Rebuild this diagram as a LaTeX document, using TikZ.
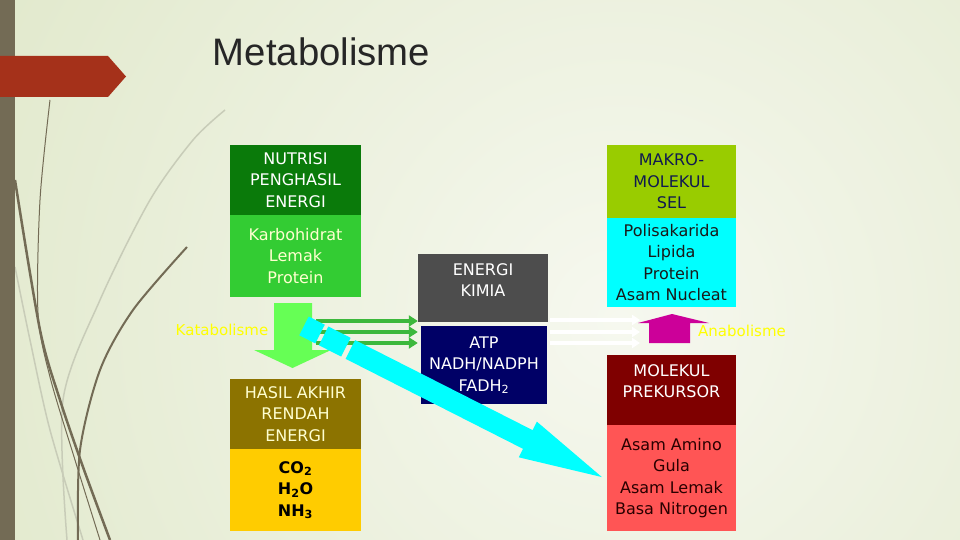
\documentclass[tikz,border=0pt]{standalone}
\usepackage{fontspec}
\setmainfont{DejaVu Sans}
\newfontfamily\titlefont{Liberation Sans}
\usetikzlibrary{arrows.meta}
\definecolor{bgin}{HTML}{F6F8EF}
\definecolor{bgout}{HTML}{E0E8CA}
\definecolor{barc}{HTML}{736B55}
\definecolor{bannerc}{HTML}{A5311A}
\definecolor{greyline}{HTML}{C8CCB8}
\definecolor{nutric}{HTML}{0A7A0A}
\definecolor{karboc}{HTML}{33CC33}
\definecolor{hasilc}{HTML}{8C7300}
\definecolor{co2c}{HTML}{FFCC00}
\definecolor{ekc}{HTML}{4D4D4D}
\definecolor{atpc}{HTML}{000066}
\definecolor{makroc}{HTML}{99CC00}
\definecolor{polic}{HTML}{00FFFF}
\definecolor{mpc}{HTML}{7F0000}
\definecolor{asamc}{HTML}{FF5555}
\definecolor{katc}{HTML}{66FF55}
\definecolor{garc}{HTML}{3CB83C}
\definecolor{magc}{HTML}{CC0099}
\definecolor{yelc}{HTML}{FFFF00}
\definecolor{creamc}{HTML}{FFFFD0}
\definecolor{navyt}{HTML}{101A50}
\definecolor{darkred}{HTML}{2A0000}
\begin{document}
\begin{tikzpicture}[x=1pt,y=-1pt,
  box/.style={rectangle, inner sep=0pt, align=center,
    font=\fontsize{16}{21.5}\selectfont},
  txt/.style={inner sep=0pt, align=center,
    font=\fontsize{16}{21.5}\selectfont},
  garrow/.style={draw=garc, line width=4pt, -{Triangle[length=9pt,width=11pt]}},
  warrow/.style={draw=white, line width=3.5pt, -{Triangle[length=8pt,width=10pt]}},
  brownline/.style={draw=barc, line width=#1},
  lbl/.style={inner sep=0pt, text=yelc, font=\fontsize{15}{18}\selectfont}
]
\useasboundingbox (0,0) rectangle (960,540);
% background
\begin{scope}
  \clip (0,0) rectangle (960,540);
  \shade[inner color=bgin, outer color=bgout] (620,320) circle (760);
\end{scope}
% decorative curves
\draw[greyline, line width=1.5pt] plot[smooth] coordinates {(225,110) (193,140) (150,200) (100,300) (63,400) (67,540)};
\draw[greyline, line width=1.5pt] plot[smooth] coordinates {(15,267) (30,340) (50,430) (83,540)};
\draw[brownline=1pt] plot[smooth] coordinates {(50,100) (40,200) (38,313) (50,377) (75,460) (100,540)};
\draw[brownline=2.5pt] plot[smooth] coordinates {(15,180) (40,330) (60,400) (83,467) (110,540)};
\draw[brownline=2pt] plot[smooth] coordinates {(187,247) (133,310) (100,370) (80,450) (78,540)};
% left bar and banner
\fill[barc] (0,0) rectangle (15,540);
\fill[bannerc] (0,56) -- (108,56) -- (126,76.5) -- (108,97) -- (0,97) -- cycle;
% title
\node[inner sep=0pt, anchor=base, text=black!85, font=\titlefont\fontsize{38.3}{40}\selectfont] (title) at (321.5,66) {Metabolisme};
% left column
\node[box, fill=nutric, minimum width=131pt, minimum height=70pt, text=white] (nutri) at (295.5,180) {NUTRISI\\PENGHASIL\\ENERGI};
\node[box, fill=karboc, minimum width=131pt, minimum height=82pt, text=creamc] (karbo) at (295.5,256) {Karbohidrat\\Lemak\\Protein};
\node[box, fill=hasilc, minimum width=131pt, minimum height=70pt, text=creamc] (hasil) at (295.5,414) {HASIL AKHIR\\RENDAH\\ENERGI};
\node[box, fill=co2c, minimum width=131pt, minimum height=82pt, text=black, font=\fontsize{16}{21.5}\selectfont\bfseries] (co2) at (295.5,490) {CO\textsubscript{2}\\H\textsubscript{2}O\\NH\textsubscript{3}};
% middle column
\node[box, fill=ekc, minimum width=130pt, minimum height=68pt] (ek) at (483,288) {};
\node[txt, text=white] (ektext) at (483,280) {ENERGI\\KIMIA};
\node[box, fill=atpc, minimum width=126pt, minimum height=78pt, text=white] (atp) at (484,365) {ATP\\NADH/NADPH\\FADH\textsubscript{2}};
% right column
\node[box, fill=makroc, minimum width=129pt, minimum height=73pt, text=navyt] (makro) at (671.5,181.5) {MAKRO-\\MOLEKUL\\SEL};
\node[box, fill=polic, minimum width=129pt, minimum height=89pt, text=black!90] (poli) at (671.5,262.5) {Polisakarida\\Lipida\\Protein\\Asam Nucleat};
\node[box, fill=mpc, minimum width=129pt, minimum height=70pt] (mp) at (671.5,390) {};
\node[txt, text=white] (mptext) at (671.5,381) {MOLEKUL\\PREKURSOR};
\node[box, fill=asamc, minimum width=129pt, minimum height=106pt, text=darkred] (asam) at (671.5,478) {Asam Amino\\Gula\\Asam Lemak\\Basa Nitrogen};
% katabolisme down arrow
\fill[katc] (274,303) -- (312,303) -- (312,350) -- (331,350) -- (292.5,368) -- (254,350) -- (274,350) -- cycle;
\node[lbl] (katlbl) at (222,330) {Katabolisme};
% green arrows to energy
\coordinate (g1s) at (316,321);
\coordinate (g2s) at (318,332);
\coordinate (g3s) at (316,343);
\draw[garrow] (g1s) -- (g1s -| ek.west);
\draw[garrow] (g2s) -- (g2s -| ek.west);
\draw[garrow] (g3s) -- (g3s -| ek.west);
% white arrows from energy to anabolism
\coordinate (w1s) at (550,320);
\coordinate (w2s) at (550,332);
\coordinate (w3s) at (550,343);
\draw[warrow] (w1s) -- ++(90,0) coordinate (w1e);
\draw[warrow] (w2s) -- ++(90,0) coordinate (w2e);
\draw[warrow] (w3s) -- ++(90,0) coordinate (w3e);
% magenta anabolism arrow
\fill[magc] (649,343) -- (649,323) -- (638,323) -- (672,314) -- (709,323) -- (690,323) -- (690,343) -- cycle;
\node[lbl] (analbl) at (742,331) {Anabolisme};
% cyan arrow to precursors
\begin{scope}[shift={(312,330)}, rotate=-26.9]
  \fill[polic] (-9,-10.5) rectangle (9,10.5);
  \fill[polic] (13,-10.5) rectangle (38,10.5);
  \fill[polic] (43,-10.5) -- (242,-10.5) -- (242,-20) -- (325,0) -- (242,20) -- (242,10.5) -- (43,10.5) -- cycle;
\end{scope}
\end{tikzpicture}
\end{document}
